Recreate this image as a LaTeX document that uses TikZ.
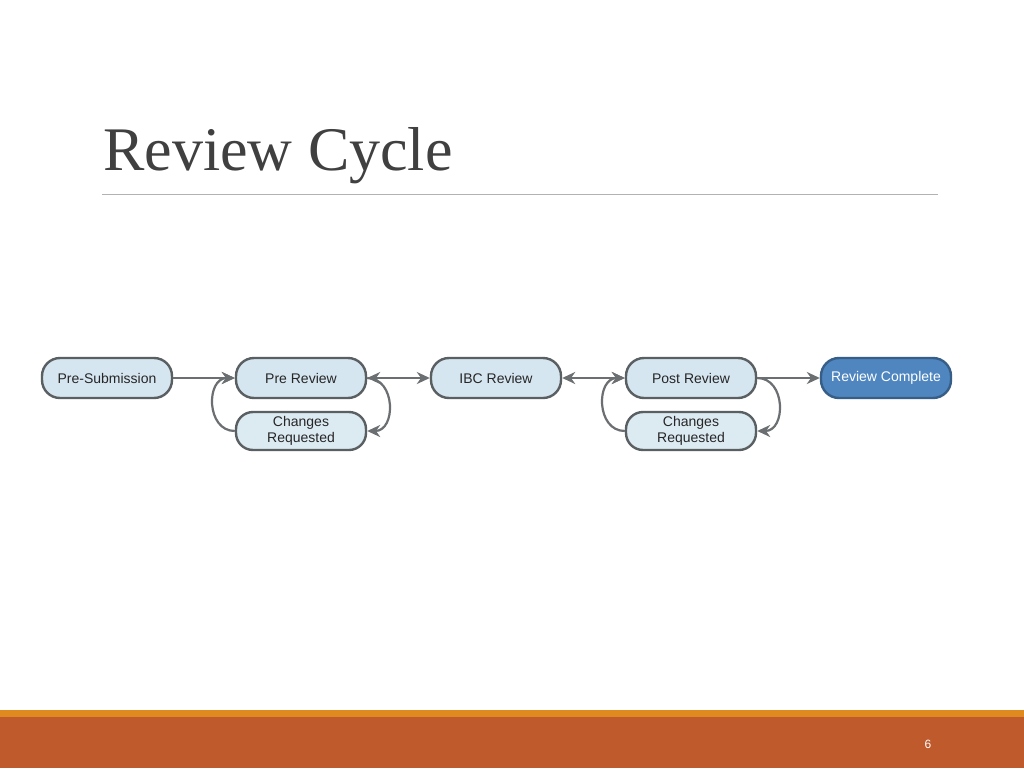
\documentclass[tikz,border=0pt]{standalone}
\usepackage{fontspec}
\setmainfont{Liberation Serif}
\newfontfamily\sansf{Liberation Sans}
\usetikzlibrary{arrows.meta}
\definecolor{boxfill}{HTML}{D6E6F0}
\definecolor{boxline}{HTML}{5A5F62}
\definecolor{donefill}{HTML}{4F86C0}
\definecolor{rust}{HTML}{BE5A2C}
\definecolor{band}{HTML}{DF8A1E}
\tikzset{
 stage/.style={draw=boxline, line width=2.4pt, fill=boxfill, rounded corners=18pt, minimum width=130pt, minimum height=40pt, font=\sansf\fontsize{14}{16}\selectfont, align=center, text=black!85},
 chg/.style={stage, minimum height=38pt, inner sep=1pt, rounded corners=17pt, fill=boxfill!85!white},
 conn/.style={draw=boxline!90, line width=2.2pt, -{Stealth[length=13pt,width=12pt]}},
 conn2/.style={conn, {Stealth[length=13pt,width=12pt]}-{Stealth[length=13pt,width=12pt]}}
}
\begin{document}
\begin{tikzpicture}[x=1pt,y=-1pt]
\useasboundingbox (0,0) rectangle (1024,768);
\fill[white] (0,0) rectangle (1024,768);
\node[anchor=base west, font=\fontsize{62}{66}\selectfont, text=black!75, inner sep=0] (title) at (103,170) {Review Cycle};
\draw[black!30, line width=0.8pt] (102,194) -- (938,194);
\fill[band] (0,710) rectangle (1024,717);
\fill[rust] (0,717) rectangle (1024,768);
\node[font=\sansf\fontsize{12}{14}\selectfont, text=white] (pg) at (928,744) {6};
\node[stage] (ps) at (107,378) {Pre-Submission};
\node[stage] (pr) at (301,378) {Pre Review};
\node[stage] (ibc) at (496,378) {IBC Review};
\node[stage] (po) at (691,378) {Post Review};
\node[stage, fill=donefill, draw=donefill!70!black, text=white] (rc) at (886,378) {Review Complete};
\node[chg] (c1) at (301,431) {Changes\\Requested};
\node[chg] (c2) at (691,431) {Changes\\Requested};
\draw[conn] (ps) -- (pr);
\draw[conn2] (pr) -- (ibc);
\draw[conn2] (ibc) -- (po);
\draw[conn] (po) -- (rc);
\draw[conn] (c1.west) to[out=180,in=180,looseness=1.4] (pr.west);
\draw[conn] (pr.east) to[out=0,in=0,looseness=1.4] (c1.east);
\draw[conn] (c2.west) to[out=180,in=180,looseness=1.4] (po.west);
\draw[conn] (po.east) to[out=0,in=0,looseness=1.4] (c2.east);
\end{tikzpicture}
\end{document}
